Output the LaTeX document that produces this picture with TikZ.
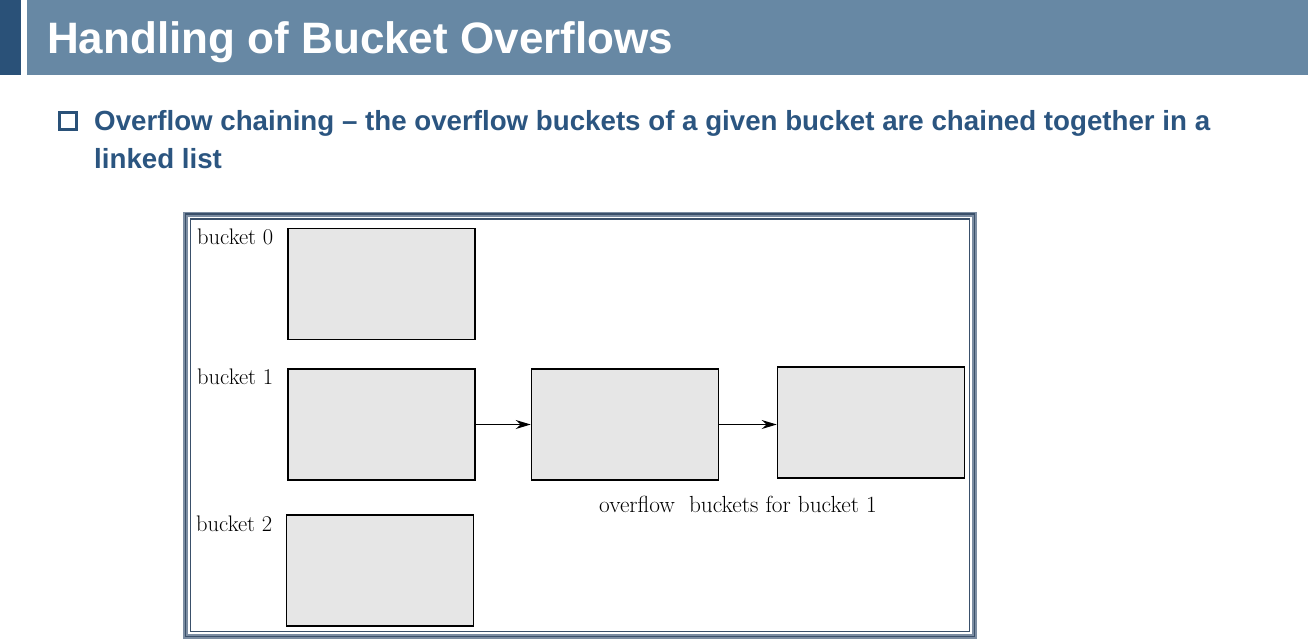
\documentclass[tikz,border=0pt]{standalone}
\usepackage{fontspec}
\usepackage{tikz}
\usetikzlibrary{arrows.meta}
\newfontfamily\titlefont{Liberation Sans}
\definecolor{barDark}{HTML}{2A5178}
\definecolor{barLight}{HTML}{6788A4}
\definecolor{bodyBlue}{HTML}{2B5580}
\definecolor{frameGray}{HTML}{7C8DA2}
\definecolor{frameDark}{HTML}{3A506A}
\definecolor{boxFill}{HTML}{E6E6E6}

\begin{document}
\begin{tikzpicture}[x=1pt,y=-1pt,
		bucketbox/.style={draw=black, line width=1.6pt, fill=boxFill, minimum width=187pt, minimum height=111pt, inner sep=0pt},
		bucketlabel/.style={anchor=base west, inner sep=0pt, font=\fontsize{22.5}{26}\selectfont},
		bodyline/.style={anchor=base west, inner sep=0pt, text=bodyBlue, font=\titlefont\bfseries\fontsize{27.7}{32}\selectfont},
		chain/.style={-{Stealth[length=15pt,width=9pt]}, line width=1.2pt}]
			\useasboundingbox (0,0) rectangle (1308,638);
			\fill[barDark] (0,0) rectangle (20.5,74.5);
			\fill[barLight] (26.5,0) rectangle (1308,74.5);
			\node[anchor=base west, inner sep=0pt, text=white, font=\titlefont\bfseries\fontsize{44}{50}\selectfont] (title) at (47,53) {Handling of Bucket Overflows};
			\node[draw=barDark, line width=3pt, minimum size=17pt, inner sep=0pt] (mark) at (68,120.5) {};
			\node[bodyline] (line1) at (94,130) {Overflow chaining – the overflow buckets of a given bucket are chained together in a};
			\node[bodyline] (line2) at (94,168) {linked list};
			\draw[frameGray, line width=5pt] (185.5,214) rectangle (974.5,636.5);
			\draw[frameDark, line width=1.8pt] (185.5,214) rectangle (974.5,636.5);
			\draw[frameDark, line width=1.5pt] (190.5,219) rectangle (969.5,631.5);
			\node[bucketbox] (b0) at (381.5,284) {};
			\node[bucketbox] (b1) at (381.5,424.5) {};
			\node[bucketbox] (b2) at (380,570.5) {};
			\node[bucketbox] (ov1) at (625,424.5) {};
			\node[bucketbox] (ov2) at (871,422.5) {};
			\node[bucketlabel] (l0) at (197,244) {bucket 0};
			\node[bucketlabel] (l1) at (197,384) {bucket 1};
			\node[bucketlabel] (l2) at (196,531) {bucket 2};
			\node[bucketlabel, font=\fontsize{23.3}{27}\selectfont] (ovl) at (599,512) {overflow\ \ buckets for bucket 1};
			\draw[chain] (b1.east) -- (ov1.west);
			\draw[chain] (ov1.east) -- (ov1.east -| ov2.west);
		\end{tikzpicture}
\end{document}
